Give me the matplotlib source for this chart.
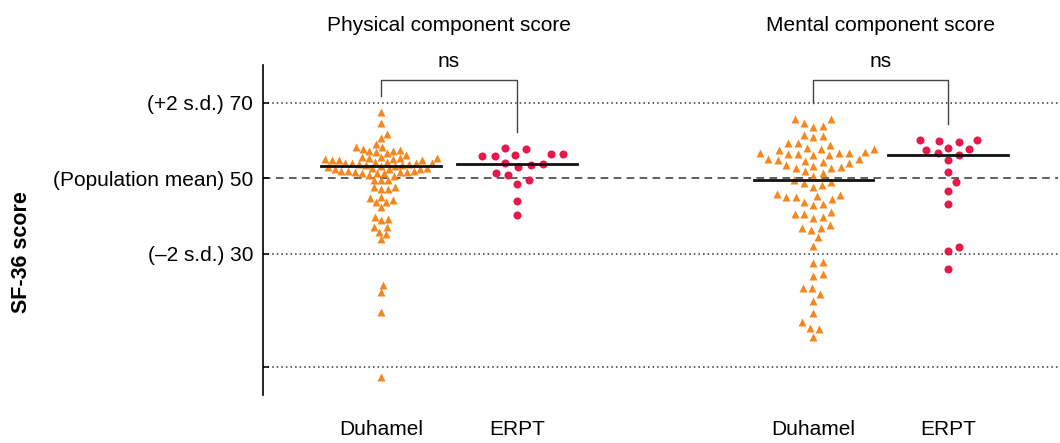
import numpy as np
import matplotlib
matplotlib.use('Agg')
import matplotlib.pyplot as plt

plt.rcParams['font.family'] = ['Liberation Sans', 'DejaVu Sans']

# valores (escore SF-36)
pcs_duhamel = [67.4, 64.5, 61.7, 60.7, 59.0, 58.3, 58.1, 57.6, 57.2, 57.4, 57.1, 57.0,
               56.7, 56.1, 55.6, 55.6, 55.2, 55.2, 54.8, 54.8, 54.8, 55.0, 55.2, 55.0,
               54.3, 53.9, 54.2, 53.6, 53.9, 53.9, 53.4, 53.6, 53.2, 53.4, 53.2, 53.9,
               52.3, 51.7, 51.9, 52.3, 52.6, 52.8, 52.3, 52.6, 51.7, 51.9, 51.2, 51.5,
               51.4, 51.9, 50.8, 51.2, 50.6, 49.5, 49.5, 49.5, 47.5, 47.5, 47.0, 47.0,
               44.9, 44.6, 44.2, 43.6, 43.6, 42.4, 39.7, 38.9, 39.2, 37.0, 37.0, 35.8,
               35.2, 33.8, 21.7, 19.9, 14.6, -2.6]
pcs_erpt = [55.8, 56.3, 56.3, 57.7, 55.9, 58.0, 56.0, 52.8, 53.4, 54.0, 53.7, 50.8,
            51.3, 49.6, 48.4, 43.8, 40.1]
mcs_duhamel = [65.6, 65.6, 63.9, 64.7, 63.6, 61.4, 61.1, 60.8, 59.2, 58.7, 59.2, 58.0,
               57.7, 57.4, 57.6, 57.0, 56.5, 56.7, 56.4, 56.1, 56.5, 56.1, 56.3, 55.0,
               54.2, 54.1, 55.0, 54.8, 54.5, 53.4, 52.7, 53.0, 51.9, 52.7, 53.3, 51.2,
               50.5, 49.5, 48.6, 49.0, 48.1, 47.5, 45.0, 45.0, 45.5, 45.9, 45.2, 44.4,
               43.1, 42.8, 43.7, 39.5, 39.7, 40.5, 40.5, 41.1, 36.2, 36.8, 36.8, 37.5,
               34.3, 32.0, 27.4, 27.7, 24.5, 24.0, 20.8, 20.8, 19.3, 17.5, 14.3, 11.9,
               9.9, 10.4, 7.8]
mcs_erpt = [59.9, 60.1, 60.1, 59.6, 57.8, 58.0, 57.4, 56.0, 56.5, 54.8, 51.6, 49.0,
            46.6, 43.1, 31.7, 30.7, 25.8]
medianas = [53.2, 53.8, 49.6, 56.1]

grupos = ['Duhamel', 'ERPT', 'Duhamel', 'ERPT']
titulos = ['Physical component score', 'Mental component score']
yticks = [0, 30, 50, 70]
ytick_labels = ['', '(\u20132 s.d.) 30', '(Population mean) 50', '(+2 s.d.) 70']

dados = [pcs_duhamel, pcs_erpt, mcs_duhamel, mcs_erpt]
posicoes = [0, 1, 3.18, 4.17]
laranja, vermelho = '#F5871F', '#E6194B'
estilos = [('^', laranja, 6.4, 7.0), ('o', vermelho, 5.8, 12.5),
           ('^', laranja, 6.4, 9.8), ('o', vermelho, 5.8, 12.0)]
fs = 15

fig = plt.figure(figsize=(10.6, 4.43), dpi=100)
ax = fig.add_axes([0.248, 0.108, 0.75, 0.745])
ax.set_xlim(-0.868, 4.978)
ax.set_ylim(-7.5, 79.9)


def swarm(vals, d, ppx, ppy):
    """ deslocamentos em x (unidades de dados) tipo beeswarm """
    ys = np.asarray(vals, float) * ppy
    ordem = np.argsort(ys)
    xs = np.zeros(len(ys))
    feitos = []
    for i in ordem:
        cands = [0.0]
        for j in feitos:
            dy = ys[i] - ys[j]
            if abs(dy) < d:
                dx = np.sqrt(d ** 2 - dy ** 2)
                cands += [xs[j] + dx, xs[j] - dx]
        cands = sorted(cands, key=abs)
        for c in cands:
            ok = all((c - xs[j]) ** 2 + (ys[i] - ys[j]) ** 2 >= d ** 2 - 1e-6
                     for j in feitos)
            if ok:
                xs[i] = c
                break
        feitos.append(i)
    return xs / ppx


p0 = ax.transData.transform((0, 0))
p1 = ax.transData.transform((1, 1))
ppx, ppy = p1[0] - p0[0], p1[1] - p0[1]

# linhas de referencia
for v in yticks:
    ls = (0, (5, 3.5)) if v == 50 else (0, (1, 2))
    ax.axhline(v, color='#333333', lw=1.1, ls=ls, zorder=1)

for vals, pos, med, (mk, cor, ms, d) in zip(dados, posicoes, medianas, estilos):
    dx = swarm(vals, d, ppx, ppy)
    ax.plot(pos + dx, vals, ls='none', marker=mk, ms=ms, color=cor,
            mec='none', zorder=3)
    ax.plot([pos - 0.44, pos + 0.44], [med, med], color='#111111', lw=2, zorder=4)

# colchetes "ns" e titulos
topo = 76
for k in range(2):
    a, b = posicoes[2 * k], posicoes[2 * k + 1]
    ya = max(dados[2 * k]) + 4.2
    yb = max(dados[2 * k + 1]) + 4.2
    ax.plot([a, a, b, b], [ya, topo, topo, yb], color='#444444', lw=1,
            clip_on=False, zorder=2)
    ax.text((a + b) / 2, 80.8, 'ns', ha='center', va='center', fontsize=fs,
            clip_on=False)
    ax.text((a + b) / 2, 90.5, titulos[k], ha='center', va='center',
            fontsize=fs, clip_on=False)

for s in ['top', 'right', 'bottom']:
    ax.spines[s].set_visible(False)
ax.spines['left'].set_linewidth(1.2)
ax.set_yticks(yticks, ytick_labels)
ax.tick_params(axis='y', direction='in', length=4, width=1.1, pad=7,
               labelsize=fs)
ax.set_xticks(posicoes, grupos)
ax.tick_params(axis='x', length=0, pad=18, labelsize=fs)

fig.text(22 / 1060, 1 - 252 / 443, 'SF-36 score', rotation=90, ha='center',
         va='center', fontsize=15.5, fontweight='bold')

fig.savefig('out.png', dpi=100)
